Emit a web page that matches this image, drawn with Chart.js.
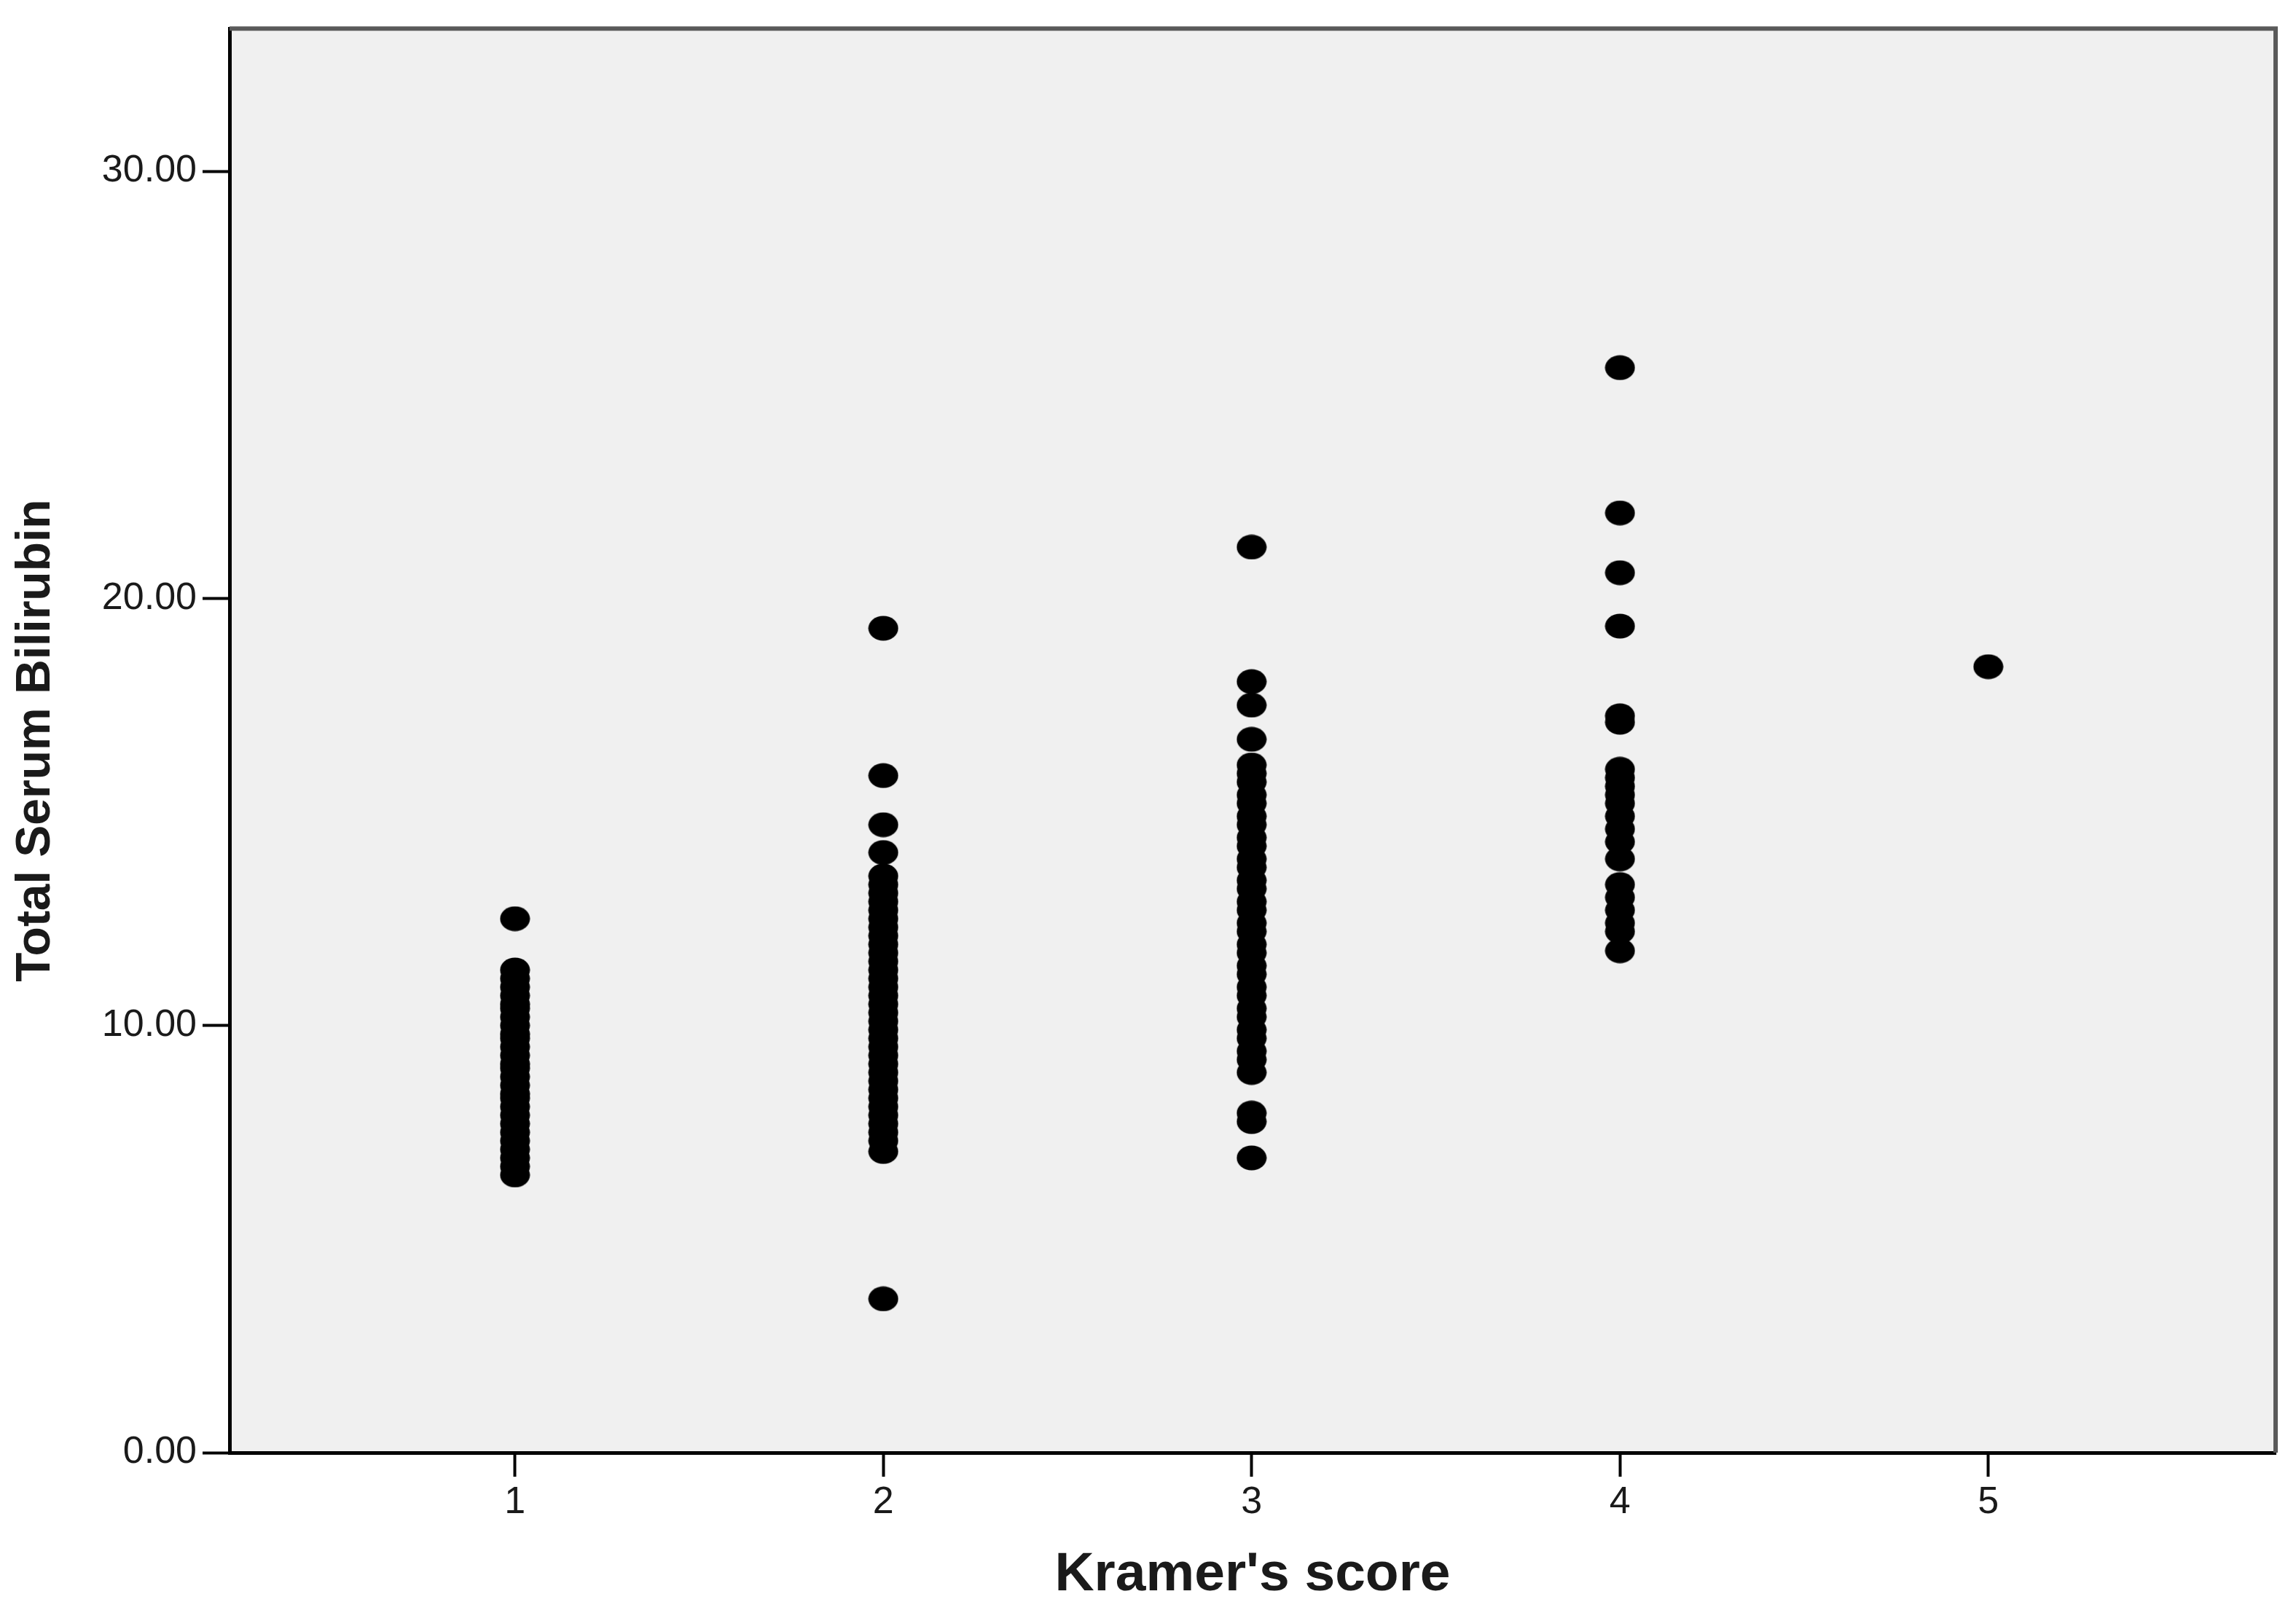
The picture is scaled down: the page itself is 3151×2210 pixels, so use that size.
<!DOCTYPE html>
<html>
<head>
<meta charset="utf-8">
<script src="https://cdn.jsdelivr.net/npm/chart.js@4.4.0/dist/chart.umd.min.js"></script>
<style>
  body { margin: 0; background: #fff; }
  canvas { display: block; }
</style>
</head>
<body>
<canvas id="scatter" width="3151" height="2210"></canvas>
<script>
// Total serum bilirubin values, grouped by Kramer's score
const score1 = [12.5, 11.3, 11.1, 10.9, 10.7, 10.5, 10.4, 10.2, 10.0, 9.8, 9.7, 9.5, 9.3, 9.1, 9.0, 8.8, 8.6, 8.4, 8.3, 8.1, 7.9, 7.7, 7.5, 7.3, 7.1, 6.9, 6.7, 6.5];
const score2 = [19.3, 15.85, 14.7, 14.05, 13.5, 13.3, 13.1, 12.9, 12.7, 12.5, 12.3, 12.1, 11.9, 11.7, 11.5, 11.3, 11.1, 10.9, 10.7, 10.5, 10.3, 10.1, 9.9, 9.7, 9.5, 9.3, 9.1, 8.9, 8.7, 8.5, 8.3, 8.1, 7.9, 7.7, 7.5, 7.3, 7.05, 3.6];
const score3 = [21.2, 18.05, 17.5, 16.7, 16.1, 15.9, 15.7, 15.4, 15.2, 14.9, 14.7, 14.4, 14.2, 13.9, 13.7, 13.4, 13.2, 12.9, 12.7, 12.4, 12.2, 11.9, 11.7, 11.4, 11.2, 10.9, 10.7, 10.4, 10.2, 9.9, 9.7, 9.4, 9.2, 8.9, 7.95, 7.75, 6.9];
const score4 = [25.4, 22.0, 20.6, 19.35, 17.25, 17.1, 16.0, 15.8, 15.6, 15.4, 15.2, 14.9, 14.6, 14.3, 13.9, 13.3, 13.0, 12.7, 12.4, 12.2, 11.75];
const score5 = [18.4];

const scores = [1, 2, 3, 4, 5];
const groups = [score1, score2, score3, score4, score5];
const xTicks = [1, 2, 3, 4, 5];
const yTicks = [0, 10, 20, 30];

const points = [];
groups.forEach((vals, i) => {
  vals.forEach(v => points.push({ x: scores[i], y: v }));
});

const FONT = "'Liberation Sans', Arial, sans-serif";

// slightly oval marker, like the SPSS dots
const dot = document.createElement("canvas");
dot.width = 42;
dot.height = 35;
const dctx = dot.getContext("2d");
dctx.fillStyle = "#000";
dctx.beginPath();
dctx.ellipse(21, 17.5, 20.5, 17, 0, 0, Math.PI * 2);
dctx.fill();

// grey plot background and the frame around it
const plotFrame = {
  id: "plotFrame",
  beforeDraw(chart) {
    const { ctx, chartArea: a } = chart;
    ctx.save();
    ctx.fillStyle = "#f0f0f0";
    ctx.fillRect(a.left, a.top, a.right - a.left, a.bottom - a.top);
    ctx.restore();
  },
  afterDraw(chart) {
    const { ctx, chartArea: a } = chart;
    ctx.save();
    ctx.strokeStyle = "#5a5a5a";
    ctx.lineWidth = 6;
    ctx.beginPath();
    ctx.moveTo(a.left, a.top);
    ctx.lineTo(a.right, a.top);
    ctx.lineTo(a.right, a.bottom);
    ctx.stroke();
    ctx.restore();
  }
};

const ctx = document.getElementById("scatter").getContext("2d");
new Chart(ctx, {
  type: "scatter",
  data: {
    datasets: [{
      data: points,
      pointStyle: dot,
      backgroundColor: "#000",
      borderWidth: 0,
      pointRadius: 20,
      pointHoverRadius: 20
    }]
  },
  options: {
    responsive: false,
    animation: false,
    layout: { padding: { top: 38, right: 28, left: 0, bottom: 0 } },
    plugins: { legend: { display: false }, tooltip: { enabled: false } },
    scales: {
      x: {
        type: "linear",
        min: 0.225,
        max: 5.78,
        afterFit(scale) { scale.height = 216; },
        afterBuildTicks(scale) { scale.ticks = xTicks.map(v => ({ value: v })); },
        grid: { drawOnChartArea: false, tickLength: 33, tickWidth: 4, tickColor: "#000" },
        border: { color: "#000", width: 5 },
        ticks: { color: "#1a1a1a", padding: 4, font: { family: FONT, size: 52 } },
        title: {
          display: true,
          text: "Kramer's score",
          color: "#1a1a1a",
          font: { family: FONT, size: 75, weight: "bold", lineHeight: 1 },
          padding: { top: 0, bottom: 10 }
        }
      },
      y: {
        type: "linear",
        min: 0,
        max: 33.34,
        afterFit(scale) { scale.width = 315; },
        afterBuildTicks(scale) { scale.ticks = yTicks.map(v => ({ value: v })); },
        grid: { drawOnChartArea: false, tickLength: 37, tickWidth: 4, tickColor: "#000" },
        border: { color: "#000", width: 5 },
        ticks: {
          color: "#1a1a1a",
          padding: 8,
          font: { family: FONT, size: 52 },
          callback: v => v.toFixed(2)
        },
        title: {
          display: true,
          text: "Total Serum Bilirubin",
          color: "#1a1a1a",
          font: { family: FONT, size: 66, weight: "bold", lineHeight: 1 },
          padding: { top: 17, bottom: 0 }
        }
      }
    }
  },
  plugins: [plotFrame]
});
</script>
</body>
</html>
